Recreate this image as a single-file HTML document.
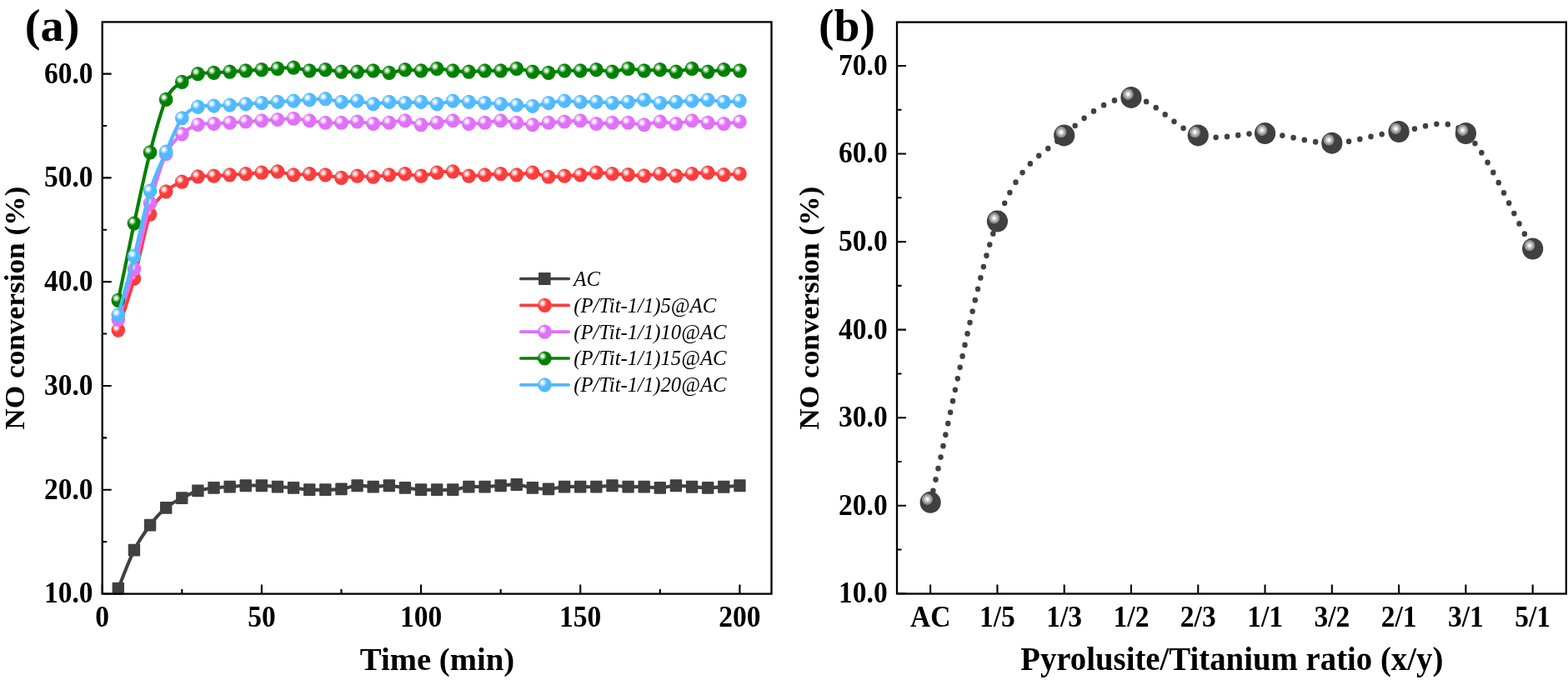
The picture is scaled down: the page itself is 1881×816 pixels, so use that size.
<!DOCTYPE html>
<html><head><meta charset="utf-8"><title>NO conversion</title>
<style>
html,body{margin:0;padding:0;background:#fff;}
svg{display:block;}
text{font-family:"Liberation Serif","Times New Roman",serif;}
.b{font-weight:bold;}
.i{font-style:italic;}
</style></head><body>
<svg width="1881" height="816" viewBox="0 0 1881 816">
<defs>
<radialGradient id="g_red" cx="0.35" cy="0.35" r="0.3" fx="0.35" fy="0.35">
<stop offset="0" stop-color="#fff"/><stop offset="0.25" stop-color="#fff" stop-opacity="0.95"/><stop offset="1" stop-color="#fff" stop-opacity="0"/></radialGradient>
<radialGradient id="g_mag" cx="0.35" cy="0.35" r="0.3" fx="0.35" fy="0.35">
<stop offset="0" stop-color="#fff"/><stop offset="0.25" stop-color="#fff" stop-opacity="0.95"/><stop offset="1" stop-color="#fff" stop-opacity="0"/></radialGradient>
<radialGradient id="g_green" cx="0.35" cy="0.35" r="0.3" fx="0.35" fy="0.35">
<stop offset="0" stop-color="#fff"/><stop offset="0.25" stop-color="#fff" stop-opacity="0.95"/><stop offset="1" stop-color="#fff" stop-opacity="0"/></radialGradient>
<radialGradient id="g_blue" cx="0.35" cy="0.35" r="0.3" fx="0.35" fy="0.35">
<stop offset="0" stop-color="#fff"/><stop offset="0.25" stop-color="#fff" stop-opacity="0.95"/><stop offset="1" stop-color="#fff" stop-opacity="0"/></radialGradient>
<radialGradient id="g_b" cx="0.352" cy="0.355" r="0.27" fx="0.352" fy="0.355">
<stop offset="0" stop-color="#fff"/><stop offset="0.2" stop-color="#fafafa"/><stop offset="0.32" stop-color="#cfcfcf"/><stop offset="0.58" stop-color="#b9b9b9"/><stop offset="0.66" stop-color="#959595"/><stop offset="0.9" stop-color="#8a8a8a"/><stop offset="0.97" stop-color="#4c4c4c"/><stop offset="1" stop-color="#404040" stop-opacity="0"/></radialGradient>
</defs>
<rect width="100%" height="100%" fill="#fff"/>
<path d="M141.82,706.26C148.19,690.87 154.56,672.78 160.94,660.09C167.31,647.41 173.68,638.61 180.05,630.15C186.43,621.68 192.80,614.71 199.17,609.31C205.54,603.90 211.92,601.09 218.29,597.70C224.66,594.31 231.03,591.01 237.40,588.97C243.78,586.93 250.15,586.29 256.52,585.47C262.89,584.66 269.27,584.56 275.64,584.10C282.01,583.64 288.38,582.96 294.76,582.73C301.13,582.50 307.50,582.50 313.88,582.73C320.25,582.96 326.62,583.64 332.99,584.10C339.36,584.56 345.74,584.87 352.11,585.47C358.48,586.08 364.85,587.35 371.23,587.72C377.60,588.09 383.97,587.87 390.34,587.72C396.72,587.57 403.09,587.68 409.46,586.85C415.83,586.01 422.21,583.19 428.58,582.73C434.95,582.27 441.32,584.10 447.70,584.10C454.07,584.10 460.44,582.50 466.81,582.73C473.19,582.96 479.56,584.64 485.93,585.47C492.31,586.31 498.68,587.35 505.05,587.72C511.42,588.09 517.80,587.72 524.17,587.72C530.54,587.72 536.91,588.32 543.28,587.72C549.66,587.12 556.03,584.70 562.40,584.10C568.77,583.50 575.15,584.33 581.52,584.10C587.89,583.87 594.26,583.17 600.64,582.73C607.01,582.29 613.38,581.02 619.75,581.48C626.13,581.94 632.50,584.58 638.87,585.47C645.25,586.37 651.62,587.08 657.99,586.85C664.36,586.62 670.74,584.56 677.11,584.10C683.48,583.64 689.85,584.10 696.23,584.10C702.60,584.10 708.97,584.33 715.34,584.10C721.71,583.87 728.09,582.73 734.46,582.73C740.83,582.73 747.20,583.87 753.58,584.10C759.95,584.33 766.32,583.89 772.69,584.10C779.07,584.31 785.44,585.58 791.81,585.35C798.19,585.12 804.56,582.92 810.93,582.73C817.30,582.54 823.68,583.79 830.05,584.23C836.42,584.66 842.79,585.35 849.17,585.35C855.54,585.35 861.91,584.66 868.28,584.23C874.66,583.79 881.03,583.23 887.40,582.73" fill="none" stroke="#404040" stroke-width="4.1" stroke-linejoin="round"/>
<rect x="134.62" y="698.86" width="14.4" height="14.8" rx="1" fill="#404040"/><rect x="153.74" y="652.69" width="14.4" height="14.8" rx="1" fill="#404040"/><rect x="172.85" y="622.75" width="14.4" height="14.8" rx="1" fill="#404040"/><rect x="191.97" y="601.91" width="14.4" height="14.8" rx="1" fill="#404040"/><rect x="211.09" y="590.30" width="14.4" height="14.8" rx="1" fill="#404040"/><rect x="230.20" y="581.57" width="14.4" height="14.8" rx="1" fill="#404040"/><rect x="249.32" y="578.07" width="14.4" height="14.8" rx="1" fill="#404040"/><rect x="268.44" y="576.70" width="14.4" height="14.8" rx="1" fill="#404040"/><rect x="287.56" y="575.33" width="14.4" height="14.8" rx="1" fill="#404040"/><rect x="306.68" y="575.33" width="14.4" height="14.8" rx="1" fill="#404040"/><rect x="325.79" y="576.70" width="14.4" height="14.8" rx="1" fill="#404040"/><rect x="344.91" y="578.07" width="14.4" height="14.8" rx="1" fill="#404040"/><rect x="364.03" y="580.32" width="14.4" height="14.8" rx="1" fill="#404040"/><rect x="383.14" y="580.32" width="14.4" height="14.8" rx="1" fill="#404040"/><rect x="402.26" y="579.45" width="14.4" height="14.8" rx="1" fill="#404040"/><rect x="421.38" y="575.33" width="14.4" height="14.8" rx="1" fill="#404040"/><rect x="440.50" y="576.70" width="14.4" height="14.8" rx="1" fill="#404040"/><rect x="459.62" y="575.33" width="14.4" height="14.8" rx="1" fill="#404040"/><rect x="478.73" y="578.07" width="14.4" height="14.8" rx="1" fill="#404040"/><rect x="497.85" y="580.32" width="14.4" height="14.8" rx="1" fill="#404040"/><rect x="516.97" y="580.32" width="14.4" height="14.8" rx="1" fill="#404040"/><rect x="536.08" y="580.32" width="14.4" height="14.8" rx="1" fill="#404040"/><rect x="555.20" y="576.70" width="14.4" height="14.8" rx="1" fill="#404040"/><rect x="574.32" y="576.70" width="14.4" height="14.8" rx="1" fill="#404040"/><rect x="593.44" y="575.33" width="14.4" height="14.8" rx="1" fill="#404040"/><rect x="612.55" y="574.08" width="14.4" height="14.8" rx="1" fill="#404040"/><rect x="631.67" y="578.07" width="14.4" height="14.8" rx="1" fill="#404040"/><rect x="650.79" y="579.45" width="14.4" height="14.8" rx="1" fill="#404040"/><rect x="669.91" y="576.70" width="14.4" height="14.8" rx="1" fill="#404040"/><rect x="689.02" y="576.70" width="14.4" height="14.8" rx="1" fill="#404040"/><rect x="708.14" y="576.70" width="14.4" height="14.8" rx="1" fill="#404040"/><rect x="727.26" y="575.33" width="14.4" height="14.8" rx="1" fill="#404040"/><rect x="746.38" y="576.70" width="14.4" height="14.8" rx="1" fill="#404040"/><rect x="765.49" y="576.70" width="14.4" height="14.8" rx="1" fill="#404040"/><rect x="784.61" y="577.95" width="14.4" height="14.8" rx="1" fill="#404040"/><rect x="803.73" y="575.33" width="14.4" height="14.8" rx="1" fill="#404040"/><rect x="822.85" y="576.83" width="14.4" height="14.8" rx="1" fill="#404040"/><rect x="841.97" y="577.95" width="14.4" height="14.8" rx="1" fill="#404040"/><rect x="861.08" y="576.83" width="14.4" height="14.8" rx="1" fill="#404040"/><rect x="880.20" y="575.33" width="14.4" height="14.8" rx="1" fill="#404040"/>
<path d="M141.82,396.06C148.19,375.47 154.56,357.46 160.94,334.29C167.31,311.12 173.68,274.46 180.05,257.05C186.43,239.65 192.80,236.34 199.17,229.85C205.54,223.36 211.92,221.12 218.29,218.12C224.66,215.13 231.03,213.05 237.40,211.88C243.78,210.72 250.15,211.47 256.52,211.13C262.89,210.80 269.27,210.30 275.64,209.89C282.01,209.47 288.38,209.10 294.76,208.64C301.13,208.18 307.50,207.60 313.88,207.14C320.25,206.68 326.62,205.44 332.99,205.89C339.36,206.35 345.74,209.43 352.11,209.89C358.48,210.34 364.85,208.64 371.23,208.64C377.60,208.64 383.97,209.10 390.34,209.89C396.72,210.68 403.09,213.17 409.46,213.38C415.83,213.59 422.21,211.32 428.58,211.13C434.95,210.95 441.32,212.46 447.70,212.26C454.07,212.05 460.44,210.49 466.81,209.89C473.19,209.28 479.56,208.43 485.93,208.64C492.31,208.85 498.68,211.38 505.05,211.13C511.42,210.88 517.80,208.01 524.17,207.14C530.54,206.27 536.91,205.23 543.28,205.89C549.66,206.56 556.03,210.47 562.40,211.13C568.77,211.80 575.15,210.30 581.52,209.89C587.89,209.47 594.26,208.64 600.64,208.64C607.01,208.64 613.38,210.14 619.75,209.89C626.13,209.64 632.50,206.75 638.87,207.14C645.25,207.54 651.62,211.59 657.99,212.26C664.36,212.92 670.74,211.53 677.11,211.13C683.48,210.74 689.85,210.55 696.23,209.89C702.60,209.22 708.97,207.37 715.34,207.14C721.71,206.91 728.09,208.10 734.46,208.51C740.83,208.93 747.20,209.24 753.58,209.64C759.95,210.03 766.32,211.07 772.69,210.88C779.07,210.70 785.44,208.51 791.81,208.51C798.19,208.51 804.56,210.88 810.93,210.88C817.30,210.88 823.68,209.14 830.05,208.51C836.42,207.89 842.79,206.95 849.17,207.14C855.54,207.33 861.91,209.41 868.28,209.64C874.66,209.87 881.03,208.89 887.40,208.51" fill="none" stroke="#FA3C3C" stroke-width="4.1" stroke-linejoin="round"/>
<ellipse cx="141.82" cy="396.06" rx="8.3" ry="8.6" fill="#FA3C3C"/><ellipse cx="141.82" cy="396.06" rx="8.3" ry="8.6" fill="url(#g_red)"/><ellipse cx="160.94" cy="334.29" rx="8.3" ry="8.6" fill="#FA3C3C"/><ellipse cx="160.94" cy="334.29" rx="8.3" ry="8.6" fill="url(#g_red)"/><ellipse cx="180.05" cy="257.05" rx="8.3" ry="8.6" fill="#FA3C3C"/><ellipse cx="180.05" cy="257.05" rx="8.3" ry="8.6" fill="url(#g_red)"/><ellipse cx="199.17" cy="229.85" rx="8.3" ry="8.6" fill="#FA3C3C"/><ellipse cx="199.17" cy="229.85" rx="8.3" ry="8.6" fill="url(#g_red)"/><ellipse cx="218.29" cy="218.12" rx="8.3" ry="8.6" fill="#FA3C3C"/><ellipse cx="218.29" cy="218.12" rx="8.3" ry="8.6" fill="url(#g_red)"/><ellipse cx="237.40" cy="211.88" rx="8.3" ry="8.6" fill="#FA3C3C"/><ellipse cx="237.40" cy="211.88" rx="8.3" ry="8.6" fill="url(#g_red)"/><ellipse cx="256.52" cy="211.13" rx="8.3" ry="8.6" fill="#FA3C3C"/><ellipse cx="256.52" cy="211.13" rx="8.3" ry="8.6" fill="url(#g_red)"/><ellipse cx="275.64" cy="209.89" rx="8.3" ry="8.6" fill="#FA3C3C"/><ellipse cx="275.64" cy="209.89" rx="8.3" ry="8.6" fill="url(#g_red)"/><ellipse cx="294.76" cy="208.64" rx="8.3" ry="8.6" fill="#FA3C3C"/><ellipse cx="294.76" cy="208.64" rx="8.3" ry="8.6" fill="url(#g_red)"/><ellipse cx="313.88" cy="207.14" rx="8.3" ry="8.6" fill="#FA3C3C"/><ellipse cx="313.88" cy="207.14" rx="8.3" ry="8.6" fill="url(#g_red)"/><ellipse cx="332.99" cy="205.89" rx="8.3" ry="8.6" fill="#FA3C3C"/><ellipse cx="332.99" cy="205.89" rx="8.3" ry="8.6" fill="url(#g_red)"/><ellipse cx="352.11" cy="209.89" rx="8.3" ry="8.6" fill="#FA3C3C"/><ellipse cx="352.11" cy="209.89" rx="8.3" ry="8.6" fill="url(#g_red)"/><ellipse cx="371.23" cy="208.64" rx="8.3" ry="8.6" fill="#FA3C3C"/><ellipse cx="371.23" cy="208.64" rx="8.3" ry="8.6" fill="url(#g_red)"/><ellipse cx="390.34" cy="209.89" rx="8.3" ry="8.6" fill="#FA3C3C"/><ellipse cx="390.34" cy="209.89" rx="8.3" ry="8.6" fill="url(#g_red)"/><ellipse cx="409.46" cy="213.38" rx="8.3" ry="8.6" fill="#FA3C3C"/><ellipse cx="409.46" cy="213.38" rx="8.3" ry="8.6" fill="url(#g_red)"/><ellipse cx="428.58" cy="211.13" rx="8.3" ry="8.6" fill="#FA3C3C"/><ellipse cx="428.58" cy="211.13" rx="8.3" ry="8.6" fill="url(#g_red)"/><ellipse cx="447.70" cy="212.26" rx="8.3" ry="8.6" fill="#FA3C3C"/><ellipse cx="447.70" cy="212.26" rx="8.3" ry="8.6" fill="url(#g_red)"/><ellipse cx="466.81" cy="209.89" rx="8.3" ry="8.6" fill="#FA3C3C"/><ellipse cx="466.81" cy="209.89" rx="8.3" ry="8.6" fill="url(#g_red)"/><ellipse cx="485.93" cy="208.64" rx="8.3" ry="8.6" fill="#FA3C3C"/><ellipse cx="485.93" cy="208.64" rx="8.3" ry="8.6" fill="url(#g_red)"/><ellipse cx="505.05" cy="211.13" rx="8.3" ry="8.6" fill="#FA3C3C"/><ellipse cx="505.05" cy="211.13" rx="8.3" ry="8.6" fill="url(#g_red)"/><ellipse cx="524.17" cy="207.14" rx="8.3" ry="8.6" fill="#FA3C3C"/><ellipse cx="524.17" cy="207.14" rx="8.3" ry="8.6" fill="url(#g_red)"/><ellipse cx="543.28" cy="205.89" rx="8.3" ry="8.6" fill="#FA3C3C"/><ellipse cx="543.28" cy="205.89" rx="8.3" ry="8.6" fill="url(#g_red)"/><ellipse cx="562.40" cy="211.13" rx="8.3" ry="8.6" fill="#FA3C3C"/><ellipse cx="562.40" cy="211.13" rx="8.3" ry="8.6" fill="url(#g_red)"/><ellipse cx="581.52" cy="209.89" rx="8.3" ry="8.6" fill="#FA3C3C"/><ellipse cx="581.52" cy="209.89" rx="8.3" ry="8.6" fill="url(#g_red)"/><ellipse cx="600.64" cy="208.64" rx="8.3" ry="8.6" fill="#FA3C3C"/><ellipse cx="600.64" cy="208.64" rx="8.3" ry="8.6" fill="url(#g_red)"/><ellipse cx="619.75" cy="209.89" rx="8.3" ry="8.6" fill="#FA3C3C"/><ellipse cx="619.75" cy="209.89" rx="8.3" ry="8.6" fill="url(#g_red)"/><ellipse cx="638.87" cy="207.14" rx="8.3" ry="8.6" fill="#FA3C3C"/><ellipse cx="638.87" cy="207.14" rx="8.3" ry="8.6" fill="url(#g_red)"/><ellipse cx="657.99" cy="212.26" rx="8.3" ry="8.6" fill="#FA3C3C"/><ellipse cx="657.99" cy="212.26" rx="8.3" ry="8.6" fill="url(#g_red)"/><ellipse cx="677.11" cy="211.13" rx="8.3" ry="8.6" fill="#FA3C3C"/><ellipse cx="677.11" cy="211.13" rx="8.3" ry="8.6" fill="url(#g_red)"/><ellipse cx="696.23" cy="209.89" rx="8.3" ry="8.6" fill="#FA3C3C"/><ellipse cx="696.23" cy="209.89" rx="8.3" ry="8.6" fill="url(#g_red)"/><ellipse cx="715.34" cy="207.14" rx="8.3" ry="8.6" fill="#FA3C3C"/><ellipse cx="715.34" cy="207.14" rx="8.3" ry="8.6" fill="url(#g_red)"/><ellipse cx="734.46" cy="208.51" rx="8.3" ry="8.6" fill="#FA3C3C"/><ellipse cx="734.46" cy="208.51" rx="8.3" ry="8.6" fill="url(#g_red)"/><ellipse cx="753.58" cy="209.64" rx="8.3" ry="8.6" fill="#FA3C3C"/><ellipse cx="753.58" cy="209.64" rx="8.3" ry="8.6" fill="url(#g_red)"/><ellipse cx="772.69" cy="210.88" rx="8.3" ry="8.6" fill="#FA3C3C"/><ellipse cx="772.69" cy="210.88" rx="8.3" ry="8.6" fill="url(#g_red)"/><ellipse cx="791.81" cy="208.51" rx="8.3" ry="8.6" fill="#FA3C3C"/><ellipse cx="791.81" cy="208.51" rx="8.3" ry="8.6" fill="url(#g_red)"/><ellipse cx="810.93" cy="210.88" rx="8.3" ry="8.6" fill="#FA3C3C"/><ellipse cx="810.93" cy="210.88" rx="8.3" ry="8.6" fill="url(#g_red)"/><ellipse cx="830.05" cy="208.51" rx="8.3" ry="8.6" fill="#FA3C3C"/><ellipse cx="830.05" cy="208.51" rx="8.3" ry="8.6" fill="url(#g_red)"/><ellipse cx="849.17" cy="207.14" rx="8.3" ry="8.6" fill="#FA3C3C"/><ellipse cx="849.17" cy="207.14" rx="8.3" ry="8.6" fill="url(#g_red)"/><ellipse cx="868.28" cy="209.64" rx="8.3" ry="8.6" fill="#FA3C3C"/><ellipse cx="868.28" cy="209.64" rx="8.3" ry="8.6" fill="url(#g_red)"/><ellipse cx="887.40" cy="208.51" rx="8.3" ry="8.6" fill="#FA3C3C"/><ellipse cx="887.40" cy="208.51" rx="8.3" ry="8.6" fill="url(#g_red)"/>
<path d="M141.82,383.33C148.19,363.16 154.56,346.06 160.94,322.81C167.31,299.56 173.68,266.85 180.05,243.83C186.43,220.80 192.80,198.51 199.17,184.68C205.54,170.85 211.92,166.71 218.29,160.85C224.66,154.98 231.03,151.55 237.40,149.49C243.78,147.43 250.15,148.87 256.52,148.49C262.89,148.12 269.27,147.66 275.64,147.25C282.01,146.83 288.38,146.41 294.76,146.00C301.13,145.58 307.50,145.17 313.88,144.75C320.25,144.34 326.62,143.92 332.99,143.50C339.36,143.09 345.74,142.05 352.11,142.26C358.48,142.46 364.85,143.92 371.23,144.75C377.60,145.58 383.97,146.83 390.34,147.25C396.72,147.66 403.09,147.45 409.46,147.25C415.83,147.04 422.21,145.79 428.58,146.00C434.95,146.21 441.32,148.29 447.70,148.49C454.07,148.70 460.44,147.87 466.81,147.25C473.19,146.62 479.56,144.34 485.93,144.75C492.31,145.17 498.68,149.33 505.05,149.74C511.42,150.16 517.80,148.08 524.17,147.25C530.54,146.41 536.91,144.54 543.28,144.75C549.66,144.96 556.03,148.08 562.40,148.49C568.77,148.91 575.15,147.87 581.52,147.25C587.89,146.62 594.26,144.75 600.64,144.75C607.01,144.75 613.38,146.41 619.75,147.25C626.13,148.08 632.50,149.74 638.87,149.74C645.25,149.74 651.62,147.87 657.99,147.25C664.36,146.62 670.74,146.41 677.11,146.00C683.48,145.58 689.85,144.34 696.23,144.75C702.60,145.17 708.97,148.08 715.34,148.49C721.71,148.91 728.09,147.45 734.46,147.25C740.83,147.04 747.20,146.83 753.58,147.25C759.95,147.66 766.32,149.95 772.69,149.74C779.07,149.53 785.44,146.21 791.81,146.00C798.19,145.79 804.56,148.70 810.93,148.49C817.30,148.29 823.68,144.96 830.05,144.75C836.42,144.54 842.79,146.62 849.17,147.25C855.54,147.87 861.91,148.70 868.28,148.49C874.66,148.29 881.03,146.83 887.40,146.00" fill="none" stroke="#E070F8" stroke-width="4.1" stroke-linejoin="round"/>
<ellipse cx="141.82" cy="383.33" rx="8.3" ry="8.6" fill="#E070F8"/><ellipse cx="141.82" cy="383.33" rx="8.3" ry="8.6" fill="url(#g_mag)"/><ellipse cx="160.94" cy="322.81" rx="8.3" ry="8.6" fill="#E070F8"/><ellipse cx="160.94" cy="322.81" rx="8.3" ry="8.6" fill="url(#g_mag)"/><ellipse cx="180.05" cy="243.83" rx="8.3" ry="8.6" fill="#E070F8"/><ellipse cx="180.05" cy="243.83" rx="8.3" ry="8.6" fill="url(#g_mag)"/><ellipse cx="199.17" cy="184.68" rx="8.3" ry="8.6" fill="#E070F8"/><ellipse cx="199.17" cy="184.68" rx="8.3" ry="8.6" fill="url(#g_mag)"/><ellipse cx="218.29" cy="160.85" rx="8.3" ry="8.6" fill="#E070F8"/><ellipse cx="218.29" cy="160.85" rx="8.3" ry="8.6" fill="url(#g_mag)"/><ellipse cx="237.40" cy="149.49" rx="8.3" ry="8.6" fill="#E070F8"/><ellipse cx="237.40" cy="149.49" rx="8.3" ry="8.6" fill="url(#g_mag)"/><ellipse cx="256.52" cy="148.49" rx="8.3" ry="8.6" fill="#E070F8"/><ellipse cx="256.52" cy="148.49" rx="8.3" ry="8.6" fill="url(#g_mag)"/><ellipse cx="275.64" cy="147.25" rx="8.3" ry="8.6" fill="#E070F8"/><ellipse cx="275.64" cy="147.25" rx="8.3" ry="8.6" fill="url(#g_mag)"/><ellipse cx="294.76" cy="146.00" rx="8.3" ry="8.6" fill="#E070F8"/><ellipse cx="294.76" cy="146.00" rx="8.3" ry="8.6" fill="url(#g_mag)"/><ellipse cx="313.88" cy="144.75" rx="8.3" ry="8.6" fill="#E070F8"/><ellipse cx="313.88" cy="144.75" rx="8.3" ry="8.6" fill="url(#g_mag)"/><ellipse cx="332.99" cy="143.50" rx="8.3" ry="8.6" fill="#E070F8"/><ellipse cx="332.99" cy="143.50" rx="8.3" ry="8.6" fill="url(#g_mag)"/><ellipse cx="352.11" cy="142.26" rx="8.3" ry="8.6" fill="#E070F8"/><ellipse cx="352.11" cy="142.26" rx="8.3" ry="8.6" fill="url(#g_mag)"/><ellipse cx="371.23" cy="144.75" rx="8.3" ry="8.6" fill="#E070F8"/><ellipse cx="371.23" cy="144.75" rx="8.3" ry="8.6" fill="url(#g_mag)"/><ellipse cx="390.34" cy="147.25" rx="8.3" ry="8.6" fill="#E070F8"/><ellipse cx="390.34" cy="147.25" rx="8.3" ry="8.6" fill="url(#g_mag)"/><ellipse cx="409.46" cy="147.25" rx="8.3" ry="8.6" fill="#E070F8"/><ellipse cx="409.46" cy="147.25" rx="8.3" ry="8.6" fill="url(#g_mag)"/><ellipse cx="428.58" cy="146.00" rx="8.3" ry="8.6" fill="#E070F8"/><ellipse cx="428.58" cy="146.00" rx="8.3" ry="8.6" fill="url(#g_mag)"/><ellipse cx="447.70" cy="148.49" rx="8.3" ry="8.6" fill="#E070F8"/><ellipse cx="447.70" cy="148.49" rx="8.3" ry="8.6" fill="url(#g_mag)"/><ellipse cx="466.81" cy="147.25" rx="8.3" ry="8.6" fill="#E070F8"/><ellipse cx="466.81" cy="147.25" rx="8.3" ry="8.6" fill="url(#g_mag)"/><ellipse cx="485.93" cy="144.75" rx="8.3" ry="8.6" fill="#E070F8"/><ellipse cx="485.93" cy="144.75" rx="8.3" ry="8.6" fill="url(#g_mag)"/><ellipse cx="505.05" cy="149.74" rx="8.3" ry="8.6" fill="#E070F8"/><ellipse cx="505.05" cy="149.74" rx="8.3" ry="8.6" fill="url(#g_mag)"/><ellipse cx="524.17" cy="147.25" rx="8.3" ry="8.6" fill="#E070F8"/><ellipse cx="524.17" cy="147.25" rx="8.3" ry="8.6" fill="url(#g_mag)"/><ellipse cx="543.28" cy="144.75" rx="8.3" ry="8.6" fill="#E070F8"/><ellipse cx="543.28" cy="144.75" rx="8.3" ry="8.6" fill="url(#g_mag)"/><ellipse cx="562.40" cy="148.49" rx="8.3" ry="8.6" fill="#E070F8"/><ellipse cx="562.40" cy="148.49" rx="8.3" ry="8.6" fill="url(#g_mag)"/><ellipse cx="581.52" cy="147.25" rx="8.3" ry="8.6" fill="#E070F8"/><ellipse cx="581.52" cy="147.25" rx="8.3" ry="8.6" fill="url(#g_mag)"/><ellipse cx="600.64" cy="144.75" rx="8.3" ry="8.6" fill="#E070F8"/><ellipse cx="600.64" cy="144.75" rx="8.3" ry="8.6" fill="url(#g_mag)"/><ellipse cx="619.75" cy="147.25" rx="8.3" ry="8.6" fill="#E070F8"/><ellipse cx="619.75" cy="147.25" rx="8.3" ry="8.6" fill="url(#g_mag)"/><ellipse cx="638.87" cy="149.74" rx="8.3" ry="8.6" fill="#E070F8"/><ellipse cx="638.87" cy="149.74" rx="8.3" ry="8.6" fill="url(#g_mag)"/><ellipse cx="657.99" cy="147.25" rx="8.3" ry="8.6" fill="#E070F8"/><ellipse cx="657.99" cy="147.25" rx="8.3" ry="8.6" fill="url(#g_mag)"/><ellipse cx="677.11" cy="146.00" rx="8.3" ry="8.6" fill="#E070F8"/><ellipse cx="677.11" cy="146.00" rx="8.3" ry="8.6" fill="url(#g_mag)"/><ellipse cx="696.23" cy="144.75" rx="8.3" ry="8.6" fill="#E070F8"/><ellipse cx="696.23" cy="144.75" rx="8.3" ry="8.6" fill="url(#g_mag)"/><ellipse cx="715.34" cy="148.49" rx="8.3" ry="8.6" fill="#E070F8"/><ellipse cx="715.34" cy="148.49" rx="8.3" ry="8.6" fill="url(#g_mag)"/><ellipse cx="734.46" cy="147.25" rx="8.3" ry="8.6" fill="#E070F8"/><ellipse cx="734.46" cy="147.25" rx="8.3" ry="8.6" fill="url(#g_mag)"/><ellipse cx="753.58" cy="147.25" rx="8.3" ry="8.6" fill="#E070F8"/><ellipse cx="753.58" cy="147.25" rx="8.3" ry="8.6" fill="url(#g_mag)"/><ellipse cx="772.69" cy="149.74" rx="8.3" ry="8.6" fill="#E070F8"/><ellipse cx="772.69" cy="149.74" rx="8.3" ry="8.6" fill="url(#g_mag)"/><ellipse cx="791.81" cy="146.00" rx="8.3" ry="8.6" fill="#E070F8"/><ellipse cx="791.81" cy="146.00" rx="8.3" ry="8.6" fill="url(#g_mag)"/><ellipse cx="810.93" cy="148.49" rx="8.3" ry="8.6" fill="#E070F8"/><ellipse cx="810.93" cy="148.49" rx="8.3" ry="8.6" fill="url(#g_mag)"/><ellipse cx="830.05" cy="144.75" rx="8.3" ry="8.6" fill="#E070F8"/><ellipse cx="830.05" cy="144.75" rx="8.3" ry="8.6" fill="url(#g_mag)"/><ellipse cx="849.17" cy="147.25" rx="8.3" ry="8.6" fill="#E070F8"/><ellipse cx="849.17" cy="147.25" rx="8.3" ry="8.6" fill="url(#g_mag)"/><ellipse cx="868.28" cy="148.49" rx="8.3" ry="8.6" fill="#E070F8"/><ellipse cx="868.28" cy="148.49" rx="8.3" ry="8.6" fill="url(#g_mag)"/><ellipse cx="887.40" cy="146.00" rx="8.3" ry="8.6" fill="#E070F8"/><ellipse cx="887.40" cy="146.00" rx="8.3" ry="8.6" fill="url(#g_mag)"/>
<path d="M141.82,360.37C148.19,329.59 154.56,297.63 160.94,268.03C167.31,238.44 173.68,207.58 180.05,182.81C186.43,158.04 192.80,133.50 199.17,119.42C205.54,105.34 211.92,103.47 218.29,98.33C224.66,93.20 231.03,90.43 237.40,88.60C243.78,86.77 250.15,87.77 256.52,87.35C262.89,86.94 269.27,86.52 275.64,86.10C282.01,85.69 288.38,85.27 294.76,84.86C301.13,84.44 307.50,84.02 313.88,83.61C320.25,83.19 326.62,82.78 332.99,82.36C339.36,81.95 345.74,80.70 352.11,81.11C358.48,81.53 364.85,84.44 371.23,84.86C377.60,85.27 383.97,83.40 390.34,83.61C396.72,83.82 403.09,85.69 409.46,86.10C415.83,86.52 422.21,86.31 428.58,86.10C434.95,85.90 441.32,84.65 447.70,84.86C454.07,85.06 460.44,87.56 466.81,87.35C473.19,87.14 479.56,84.02 485.93,83.61C492.31,83.19 498.68,85.06 505.05,84.86C511.42,84.65 517.80,82.36 524.17,82.36C530.54,82.36 536.91,84.23 543.28,84.86C549.66,85.48 556.03,86.10 562.40,86.10C568.77,86.10 575.15,85.06 581.52,84.86C587.89,84.65 594.26,85.27 600.64,84.86C607.01,84.44 613.38,82.15 619.75,82.36C626.13,82.57 632.50,85.27 638.87,86.10C645.25,86.94 651.62,87.56 657.99,87.35C664.36,87.14 670.74,85.27 677.11,84.86C683.48,84.44 689.85,85.06 696.23,84.86C702.60,84.65 708.97,83.40 715.34,83.61C721.71,83.82 728.09,86.31 734.46,86.10C740.83,85.90 747.20,82.57 753.58,82.36C759.95,82.15 766.32,84.65 772.69,84.86C779.07,85.06 785.44,83.40 791.81,83.61C798.19,83.82 804.56,86.31 810.93,86.10C817.30,85.90 823.68,82.36 830.05,82.36C836.42,82.36 842.79,85.90 849.17,86.10C855.54,86.31 861.91,83.82 868.28,83.61C874.66,83.40 881.03,84.44 887.40,84.86" fill="none" stroke="#008000" stroke-width="4.1" stroke-linejoin="round"/>
<ellipse cx="141.82" cy="360.37" rx="8.3" ry="8.6" fill="#008000"/><ellipse cx="141.82" cy="360.37" rx="8.3" ry="8.6" fill="url(#g_green)"/><ellipse cx="160.94" cy="268.03" rx="8.3" ry="8.6" fill="#008000"/><ellipse cx="160.94" cy="268.03" rx="8.3" ry="8.6" fill="url(#g_green)"/><ellipse cx="180.05" cy="182.81" rx="8.3" ry="8.6" fill="#008000"/><ellipse cx="180.05" cy="182.81" rx="8.3" ry="8.6" fill="url(#g_green)"/><ellipse cx="199.17" cy="119.42" rx="8.3" ry="8.6" fill="#008000"/><ellipse cx="199.17" cy="119.42" rx="8.3" ry="8.6" fill="url(#g_green)"/><ellipse cx="218.29" cy="98.33" rx="8.3" ry="8.6" fill="#008000"/><ellipse cx="218.29" cy="98.33" rx="8.3" ry="8.6" fill="url(#g_green)"/><ellipse cx="237.40" cy="88.60" rx="8.3" ry="8.6" fill="#008000"/><ellipse cx="237.40" cy="88.60" rx="8.3" ry="8.6" fill="url(#g_green)"/><ellipse cx="256.52" cy="87.35" rx="8.3" ry="8.6" fill="#008000"/><ellipse cx="256.52" cy="87.35" rx="8.3" ry="8.6" fill="url(#g_green)"/><ellipse cx="275.64" cy="86.10" rx="8.3" ry="8.6" fill="#008000"/><ellipse cx="275.64" cy="86.10" rx="8.3" ry="8.6" fill="url(#g_green)"/><ellipse cx="294.76" cy="84.86" rx="8.3" ry="8.6" fill="#008000"/><ellipse cx="294.76" cy="84.86" rx="8.3" ry="8.6" fill="url(#g_green)"/><ellipse cx="313.88" cy="83.61" rx="8.3" ry="8.6" fill="#008000"/><ellipse cx="313.88" cy="83.61" rx="8.3" ry="8.6" fill="url(#g_green)"/><ellipse cx="332.99" cy="82.36" rx="8.3" ry="8.6" fill="#008000"/><ellipse cx="332.99" cy="82.36" rx="8.3" ry="8.6" fill="url(#g_green)"/><ellipse cx="352.11" cy="81.11" rx="8.3" ry="8.6" fill="#008000"/><ellipse cx="352.11" cy="81.11" rx="8.3" ry="8.6" fill="url(#g_green)"/><ellipse cx="371.23" cy="84.86" rx="8.3" ry="8.6" fill="#008000"/><ellipse cx="371.23" cy="84.86" rx="8.3" ry="8.6" fill="url(#g_green)"/><ellipse cx="390.34" cy="83.61" rx="8.3" ry="8.6" fill="#008000"/><ellipse cx="390.34" cy="83.61" rx="8.3" ry="8.6" fill="url(#g_green)"/><ellipse cx="409.46" cy="86.10" rx="8.3" ry="8.6" fill="#008000"/><ellipse cx="409.46" cy="86.10" rx="8.3" ry="8.6" fill="url(#g_green)"/><ellipse cx="428.58" cy="86.10" rx="8.3" ry="8.6" fill="#008000"/><ellipse cx="428.58" cy="86.10" rx="8.3" ry="8.6" fill="url(#g_green)"/><ellipse cx="447.70" cy="84.86" rx="8.3" ry="8.6" fill="#008000"/><ellipse cx="447.70" cy="84.86" rx="8.3" ry="8.6" fill="url(#g_green)"/><ellipse cx="466.81" cy="87.35" rx="8.3" ry="8.6" fill="#008000"/><ellipse cx="466.81" cy="87.35" rx="8.3" ry="8.6" fill="url(#g_green)"/><ellipse cx="485.93" cy="83.61" rx="8.3" ry="8.6" fill="#008000"/><ellipse cx="485.93" cy="83.61" rx="8.3" ry="8.6" fill="url(#g_green)"/><ellipse cx="505.05" cy="84.86" rx="8.3" ry="8.6" fill="#008000"/><ellipse cx="505.05" cy="84.86" rx="8.3" ry="8.6" fill="url(#g_green)"/><ellipse cx="524.17" cy="82.36" rx="8.3" ry="8.6" fill="#008000"/><ellipse cx="524.17" cy="82.36" rx="8.3" ry="8.6" fill="url(#g_green)"/><ellipse cx="543.28" cy="84.86" rx="8.3" ry="8.6" fill="#008000"/><ellipse cx="543.28" cy="84.86" rx="8.3" ry="8.6" fill="url(#g_green)"/><ellipse cx="562.40" cy="86.10" rx="8.3" ry="8.6" fill="#008000"/><ellipse cx="562.40" cy="86.10" rx="8.3" ry="8.6" fill="url(#g_green)"/><ellipse cx="581.52" cy="84.86" rx="8.3" ry="8.6" fill="#008000"/><ellipse cx="581.52" cy="84.86" rx="8.3" ry="8.6" fill="url(#g_green)"/><ellipse cx="600.64" cy="84.86" rx="8.3" ry="8.6" fill="#008000"/><ellipse cx="600.64" cy="84.86" rx="8.3" ry="8.6" fill="url(#g_green)"/><ellipse cx="619.75" cy="82.36" rx="8.3" ry="8.6" fill="#008000"/><ellipse cx="619.75" cy="82.36" rx="8.3" ry="8.6" fill="url(#g_green)"/><ellipse cx="638.87" cy="86.10" rx="8.3" ry="8.6" fill="#008000"/><ellipse cx="638.87" cy="86.10" rx="8.3" ry="8.6" fill="url(#g_green)"/><ellipse cx="657.99" cy="87.35" rx="8.3" ry="8.6" fill="#008000"/><ellipse cx="657.99" cy="87.35" rx="8.3" ry="8.6" fill="url(#g_green)"/><ellipse cx="677.11" cy="84.86" rx="8.3" ry="8.6" fill="#008000"/><ellipse cx="677.11" cy="84.86" rx="8.3" ry="8.6" fill="url(#g_green)"/><ellipse cx="696.23" cy="84.86" rx="8.3" ry="8.6" fill="#008000"/><ellipse cx="696.23" cy="84.86" rx="8.3" ry="8.6" fill="url(#g_green)"/><ellipse cx="715.34" cy="83.61" rx="8.3" ry="8.6" fill="#008000"/><ellipse cx="715.34" cy="83.61" rx="8.3" ry="8.6" fill="url(#g_green)"/><ellipse cx="734.46" cy="86.10" rx="8.3" ry="8.6" fill="#008000"/><ellipse cx="734.46" cy="86.10" rx="8.3" ry="8.6" fill="url(#g_green)"/><ellipse cx="753.58" cy="82.36" rx="8.3" ry="8.6" fill="#008000"/><ellipse cx="753.58" cy="82.36" rx="8.3" ry="8.6" fill="url(#g_green)"/><ellipse cx="772.69" cy="84.86" rx="8.3" ry="8.6" fill="#008000"/><ellipse cx="772.69" cy="84.86" rx="8.3" ry="8.6" fill="url(#g_green)"/><ellipse cx="791.81" cy="83.61" rx="8.3" ry="8.6" fill="#008000"/><ellipse cx="791.81" cy="83.61" rx="8.3" ry="8.6" fill="url(#g_green)"/><ellipse cx="810.93" cy="86.10" rx="8.3" ry="8.6" fill="#008000"/><ellipse cx="810.93" cy="86.10" rx="8.3" ry="8.6" fill="url(#g_green)"/><ellipse cx="830.05" cy="82.36" rx="8.3" ry="8.6" fill="#008000"/><ellipse cx="830.05" cy="82.36" rx="8.3" ry="8.6" fill="url(#g_green)"/><ellipse cx="849.17" cy="86.10" rx="8.3" ry="8.6" fill="#008000"/><ellipse cx="849.17" cy="86.10" rx="8.3" ry="8.6" fill="url(#g_green)"/><ellipse cx="868.28" cy="83.61" rx="8.3" ry="8.6" fill="#008000"/><ellipse cx="868.28" cy="83.61" rx="8.3" ry="8.6" fill="url(#g_green)"/><ellipse cx="887.40" cy="84.86" rx="8.3" ry="8.6" fill="#008000"/><ellipse cx="887.40" cy="84.86" rx="8.3" ry="8.6" fill="url(#g_green)"/>
<path d="M141.82,377.84C148.19,354.38 154.56,332.25 160.94,307.46C167.31,282.67 173.68,249.98 180.05,229.10C186.43,208.22 192.80,196.74 199.17,182.19C205.54,167.63 211.92,150.74 218.29,141.76C224.66,132.77 231.03,130.73 237.40,128.28C243.78,125.83 250.15,127.41 256.52,127.03C262.89,126.66 269.27,126.41 275.64,126.03C282.01,125.66 288.38,125.20 294.76,124.79C301.13,124.37 307.50,123.95 313.88,123.54C320.25,123.12 326.62,122.71 332.99,122.29C339.36,121.87 345.74,121.46 352.11,121.04C358.48,120.63 364.85,120.21 371.23,119.79C377.60,119.38 383.97,118.13 390.34,118.55C396.72,118.96 403.09,121.87 409.46,122.29C415.83,122.71 422.21,120.63 428.58,121.04C434.95,121.46 441.32,124.58 447.70,124.79C454.07,124.99 460.44,122.50 466.81,122.29C473.19,122.08 479.56,123.54 485.93,123.54C492.31,123.54 498.68,122.08 505.05,122.29C511.42,122.50 517.80,124.99 524.17,124.79C530.54,124.58 536.91,121.46 543.28,121.04C549.66,120.63 556.03,121.87 562.40,122.29C568.77,122.71 575.15,123.12 581.52,123.54C587.89,123.95 594.26,124.37 600.64,124.79C607.01,125.20 613.38,125.62 619.75,126.03C626.13,126.45 632.50,127.70 638.87,127.28C645.25,126.87 651.62,124.58 657.99,123.54C664.36,122.50 670.74,121.25 677.11,121.04C683.48,120.83 689.85,122.08 696.23,122.29C702.60,122.50 708.97,122.08 715.34,122.29C721.71,122.50 728.09,123.54 734.46,123.54C740.83,123.54 747.20,122.91 753.58,122.29C759.95,121.67 766.32,119.59 772.69,119.79C779.07,120.00 785.44,123.12 791.81,123.54C798.19,123.95 804.56,122.71 810.93,122.29C817.30,121.87 823.68,121.46 830.05,121.04C836.42,120.63 842.79,119.59 849.17,119.79C855.54,120.00 861.91,122.08 868.28,122.29C874.66,122.50 881.03,121.46 887.40,121.04" fill="none" stroke="#50BAFF" stroke-width="4.1" stroke-linejoin="round"/>
<ellipse cx="141.82" cy="377.84" rx="8.3" ry="8.6" fill="#50BAFF"/><ellipse cx="141.82" cy="377.84" rx="8.3" ry="8.6" fill="url(#g_blue)"/><ellipse cx="160.94" cy="307.46" rx="8.3" ry="8.6" fill="#50BAFF"/><ellipse cx="160.94" cy="307.46" rx="8.3" ry="8.6" fill="url(#g_blue)"/><ellipse cx="180.05" cy="229.10" rx="8.3" ry="8.6" fill="#50BAFF"/><ellipse cx="180.05" cy="229.10" rx="8.3" ry="8.6" fill="url(#g_blue)"/><ellipse cx="199.17" cy="182.19" rx="8.3" ry="8.6" fill="#50BAFF"/><ellipse cx="199.17" cy="182.19" rx="8.3" ry="8.6" fill="url(#g_blue)"/><ellipse cx="218.29" cy="141.76" rx="8.3" ry="8.6" fill="#50BAFF"/><ellipse cx="218.29" cy="141.76" rx="8.3" ry="8.6" fill="url(#g_blue)"/><ellipse cx="237.40" cy="128.28" rx="8.3" ry="8.6" fill="#50BAFF"/><ellipse cx="237.40" cy="128.28" rx="8.3" ry="8.6" fill="url(#g_blue)"/><ellipse cx="256.52" cy="127.03" rx="8.3" ry="8.6" fill="#50BAFF"/><ellipse cx="256.52" cy="127.03" rx="8.3" ry="8.6" fill="url(#g_blue)"/><ellipse cx="275.64" cy="126.03" rx="8.3" ry="8.6" fill="#50BAFF"/><ellipse cx="275.64" cy="126.03" rx="8.3" ry="8.6" fill="url(#g_blue)"/><ellipse cx="294.76" cy="124.79" rx="8.3" ry="8.6" fill="#50BAFF"/><ellipse cx="294.76" cy="124.79" rx="8.3" ry="8.6" fill="url(#g_blue)"/><ellipse cx="313.88" cy="123.54" rx="8.3" ry="8.6" fill="#50BAFF"/><ellipse cx="313.88" cy="123.54" rx="8.3" ry="8.6" fill="url(#g_blue)"/><ellipse cx="332.99" cy="122.29" rx="8.3" ry="8.6" fill="#50BAFF"/><ellipse cx="332.99" cy="122.29" rx="8.3" ry="8.6" fill="url(#g_blue)"/><ellipse cx="352.11" cy="121.04" rx="8.3" ry="8.6" fill="#50BAFF"/><ellipse cx="352.11" cy="121.04" rx="8.3" ry="8.6" fill="url(#g_blue)"/><ellipse cx="371.23" cy="119.79" rx="8.3" ry="8.6" fill="#50BAFF"/><ellipse cx="371.23" cy="119.79" rx="8.3" ry="8.6" fill="url(#g_blue)"/><ellipse cx="390.34" cy="118.55" rx="8.3" ry="8.6" fill="#50BAFF"/><ellipse cx="390.34" cy="118.55" rx="8.3" ry="8.6" fill="url(#g_blue)"/><ellipse cx="409.46" cy="122.29" rx="8.3" ry="8.6" fill="#50BAFF"/><ellipse cx="409.46" cy="122.29" rx="8.3" ry="8.6" fill="url(#g_blue)"/><ellipse cx="428.58" cy="121.04" rx="8.3" ry="8.6" fill="#50BAFF"/><ellipse cx="428.58" cy="121.04" rx="8.3" ry="8.6" fill="url(#g_blue)"/><ellipse cx="447.70" cy="124.79" rx="8.3" ry="8.6" fill="#50BAFF"/><ellipse cx="447.70" cy="124.79" rx="8.3" ry="8.6" fill="url(#g_blue)"/><ellipse cx="466.81" cy="122.29" rx="8.3" ry="8.6" fill="#50BAFF"/><ellipse cx="466.81" cy="122.29" rx="8.3" ry="8.6" fill="url(#g_blue)"/><ellipse cx="485.93" cy="123.54" rx="8.3" ry="8.6" fill="#50BAFF"/><ellipse cx="485.93" cy="123.54" rx="8.3" ry="8.6" fill="url(#g_blue)"/><ellipse cx="505.05" cy="122.29" rx="8.3" ry="8.6" fill="#50BAFF"/><ellipse cx="505.05" cy="122.29" rx="8.3" ry="8.6" fill="url(#g_blue)"/><ellipse cx="524.17" cy="124.79" rx="8.3" ry="8.6" fill="#50BAFF"/><ellipse cx="524.17" cy="124.79" rx="8.3" ry="8.6" fill="url(#g_blue)"/><ellipse cx="543.28" cy="121.04" rx="8.3" ry="8.6" fill="#50BAFF"/><ellipse cx="543.28" cy="121.04" rx="8.3" ry="8.6" fill="url(#g_blue)"/><ellipse cx="562.40" cy="122.29" rx="8.3" ry="8.6" fill="#50BAFF"/><ellipse cx="562.40" cy="122.29" rx="8.3" ry="8.6" fill="url(#g_blue)"/><ellipse cx="581.52" cy="123.54" rx="8.3" ry="8.6" fill="#50BAFF"/><ellipse cx="581.52" cy="123.54" rx="8.3" ry="8.6" fill="url(#g_blue)"/><ellipse cx="600.64" cy="124.79" rx="8.3" ry="8.6" fill="#50BAFF"/><ellipse cx="600.64" cy="124.79" rx="8.3" ry="8.6" fill="url(#g_blue)"/><ellipse cx="619.75" cy="126.03" rx="8.3" ry="8.6" fill="#50BAFF"/><ellipse cx="619.75" cy="126.03" rx="8.3" ry="8.6" fill="url(#g_blue)"/><ellipse cx="638.87" cy="127.28" rx="8.3" ry="8.6" fill="#50BAFF"/><ellipse cx="638.87" cy="127.28" rx="8.3" ry="8.6" fill="url(#g_blue)"/><ellipse cx="657.99" cy="123.54" rx="8.3" ry="8.6" fill="#50BAFF"/><ellipse cx="657.99" cy="123.54" rx="8.3" ry="8.6" fill="url(#g_blue)"/><ellipse cx="677.11" cy="121.04" rx="8.3" ry="8.6" fill="#50BAFF"/><ellipse cx="677.11" cy="121.04" rx="8.3" ry="8.6" fill="url(#g_blue)"/><ellipse cx="696.23" cy="122.29" rx="8.3" ry="8.6" fill="#50BAFF"/><ellipse cx="696.23" cy="122.29" rx="8.3" ry="8.6" fill="url(#g_blue)"/><ellipse cx="715.34" cy="122.29" rx="8.3" ry="8.6" fill="#50BAFF"/><ellipse cx="715.34" cy="122.29" rx="8.3" ry="8.6" fill="url(#g_blue)"/><ellipse cx="734.46" cy="123.54" rx="8.3" ry="8.6" fill="#50BAFF"/><ellipse cx="734.46" cy="123.54" rx="8.3" ry="8.6" fill="url(#g_blue)"/><ellipse cx="753.58" cy="122.29" rx="8.3" ry="8.6" fill="#50BAFF"/><ellipse cx="753.58" cy="122.29" rx="8.3" ry="8.6" fill="url(#g_blue)"/><ellipse cx="772.69" cy="119.79" rx="8.3" ry="8.6" fill="#50BAFF"/><ellipse cx="772.69" cy="119.79" rx="8.3" ry="8.6" fill="url(#g_blue)"/><ellipse cx="791.81" cy="123.54" rx="8.3" ry="8.6" fill="#50BAFF"/><ellipse cx="791.81" cy="123.54" rx="8.3" ry="8.6" fill="url(#g_blue)"/><ellipse cx="810.93" cy="122.29" rx="8.3" ry="8.6" fill="#50BAFF"/><ellipse cx="810.93" cy="122.29" rx="8.3" ry="8.6" fill="url(#g_blue)"/><ellipse cx="830.05" cy="121.04" rx="8.3" ry="8.6" fill="#50BAFF"/><ellipse cx="830.05" cy="121.04" rx="8.3" ry="8.6" fill="url(#g_blue)"/><ellipse cx="849.17" cy="119.79" rx="8.3" ry="8.6" fill="#50BAFF"/><ellipse cx="849.17" cy="119.79" rx="8.3" ry="8.6" fill="url(#g_blue)"/><ellipse cx="868.28" cy="122.29" rx="8.3" ry="8.6" fill="#50BAFF"/><ellipse cx="868.28" cy="122.29" rx="8.3" ry="8.6" fill="url(#g_blue)"/><ellipse cx="887.40" cy="121.04" rx="8.3" ry="8.6" fill="#50BAFF"/><ellipse cx="887.40" cy="121.04" rx="8.3" ry="8.6" fill="url(#g_blue)"/>
<rect x="122.70" y="26.40" width="802.80" height="686.20" fill="none" stroke="#000" stroke-width="2.3"/>
<path d="M122.70,712.60V701.60M218.29,712.60V707.10M313.88,712.60V701.60M409.46,712.60V707.10M505.05,712.60V701.60M600.64,712.60V707.10M696.23,712.60V701.60M791.81,712.60V707.10M887.40,712.60V701.60M122.70,712.50H133.70M122.70,650.11H128.20M122.70,587.72H133.70M122.70,525.33H128.20M122.70,462.94H133.70M122.70,400.55H128.20M122.70,338.16H133.70M122.70,275.77H128.20M122.70,213.38H133.70M122.70,150.99H128.20M122.70,88.60H133.70" stroke="#000" stroke-width="2.1" fill="none"/>
<text class="b" x="0" y="0" font-size="100" text-anchor="end" transform="translate(111.60,723.40) scale(0.335,0.355)">10.0</text><text class="b" x="0" y="0" font-size="100" text-anchor="end" transform="translate(111.60,598.62) scale(0.335,0.355)">20.0</text><text class="b" x="0" y="0" font-size="100" text-anchor="end" transform="translate(111.60,473.84) scale(0.335,0.355)">30.0</text><text class="b" x="0" y="0" font-size="100" text-anchor="end" transform="translate(111.60,349.06) scale(0.335,0.355)">40.0</text><text class="b" x="0" y="0" font-size="100" text-anchor="end" transform="translate(111.60,224.28) scale(0.335,0.355)">50.0</text><text class="b" x="0" y="0" font-size="100" text-anchor="end" transform="translate(111.60,99.50) scale(0.335,0.355)">60.0</text><text class="b" x="0" y="0" font-size="100" text-anchor="middle" transform="translate(122.70,752.00) scale(0.335,0.355)">0</text><text class="b" x="0" y="0" font-size="100" text-anchor="middle" transform="translate(313.88,752.00) scale(0.335,0.355)">50</text><text class="b" x="0" y="0" font-size="100" text-anchor="middle" transform="translate(505.05,752.00) scale(0.335,0.355)">100</text><text class="b" x="0" y="0" font-size="100" text-anchor="middle" transform="translate(696.23,752.00) scale(0.335,0.355)">150</text><text class="b" x="0" y="0" font-size="100" text-anchor="middle" transform="translate(887.40,752.00) scale(0.335,0.355)">200</text>
<text class="b" x="0" y="0" font-size="100" transform="translate(431.8,803.8) scale(0.3875,0.39)">Time (min)</text>
<text class="b" x="0" y="0" font-size="100" transform="translate(28.5,515.7) rotate(-90) scale(0.353,0.333)">NO conversion (%)</text>
<text class="b" x="0" y="0" font-size="100" transform="translate(29.8,49.2) scale(0.564,0.555)">(a)</text>
<path d="M624.8,334.5H682.2" stroke="#404040" stroke-width="3.7" stroke-linecap="round"/><rect x="646.00" y="327.05" width="14.6" height="14.9" rx="1" fill="#404040"/><text class="i" x="688.3" y="342.90" font-size="24.7">AC</text>
<path d="M624.8,366.4H682.2" stroke="#FA3C3C" stroke-width="3.7" stroke-linecap="round"/><ellipse cx="653.40" cy="366.40" rx="8.3" ry="8.6" fill="#FA3C3C"/><ellipse cx="653.40" cy="366.40" rx="8.3" ry="8.6" fill="url(#g_red)"/><text class="i" x="688.3" y="374.80" font-size="24.7">(P/Tit-1/1)5@AC</text>
<path d="M624.8,398.2H682.2" stroke="#E070F8" stroke-width="3.7" stroke-linecap="round"/><ellipse cx="653.40" cy="398.20" rx="8.3" ry="8.6" fill="#E070F8"/><ellipse cx="653.40" cy="398.20" rx="8.3" ry="8.6" fill="url(#g_mag)"/><text class="i" x="688.3" y="406.60" font-size="24.7">(P/Tit-1/1)10@AC</text>
<path d="M624.8,430.0H682.2" stroke="#008000" stroke-width="3.7" stroke-linecap="round"/><ellipse cx="653.40" cy="430.00" rx="8.3" ry="8.6" fill="#008000"/><ellipse cx="653.40" cy="430.00" rx="8.3" ry="8.6" fill="url(#g_green)"/><text class="i" x="688.3" y="438.40" font-size="24.7">(P/Tit-1/1)15@AC</text>
<path d="M624.8,461.8H682.2" stroke="#50BAFF" stroke-width="3.7" stroke-linecap="round"/><ellipse cx="653.40" cy="461.80" rx="8.3" ry="8.6" fill="#50BAFF"/><ellipse cx="653.40" cy="461.80" rx="8.3" ry="8.6" fill="url(#g_blue)"/><text class="i" x="688.3" y="470.20" font-size="24.7">(P/Tit-1/1)20@AC</text>
<g fill="#404040"><ellipse cx="1116.24" cy="602.42" rx="3.25" ry="3.4"/><ellipse cx="1119.39" cy="588.99" rx="3.25" ry="3.4"/><ellipse cx="1122.48" cy="575.51" rx="3.25" ry="3.4"/><ellipse cx="1125.49" cy="562.13" rx="3.25" ry="3.4"/><ellipse cx="1128.49" cy="548.62" rx="3.25" ry="3.4"/><ellipse cx="1131.42" cy="535.22" rx="3.25" ry="3.4"/><ellipse cx="1134.35" cy="521.68" rx="3.25" ry="3.4"/><ellipse cx="1137.24" cy="508.22" rx="3.25" ry="3.4"/><ellipse cx="1140.11" cy="494.80" rx="3.25" ry="3.4"/><ellipse cx="1143.00" cy="481.25" rx="3.25" ry="3.4"/><ellipse cx="1145.87" cy="467.80" rx="3.25" ry="3.4"/><ellipse cx="1148.76" cy="454.29" rx="3.25" ry="3.4"/><ellipse cx="1151.65" cy="440.84" rx="3.25" ry="3.4"/><ellipse cx="1154.56" cy="427.40" rx="3.25" ry="3.4"/><ellipse cx="1157.51" cy="413.91" rx="3.25" ry="3.4"/><ellipse cx="1160.51" cy="400.42" rx="3.25" ry="3.4"/><ellipse cx="1163.52" cy="387.05" rx="3.25" ry="3.4"/><ellipse cx="1166.61" cy="373.59" rx="3.25" ry="3.4"/><ellipse cx="1169.76" cy="360.18" rx="3.25" ry="3.4"/><ellipse cx="1172.99" cy="346.81" rx="3.25" ry="3.4"/><ellipse cx="1176.34" cy="333.39" rx="3.25" ry="3.4"/><ellipse cx="1179.80" cy="320.11" rx="3.25" ry="3.4"/><ellipse cx="1183.43" cy="306.77" rx="3.25" ry="3.4"/><ellipse cx="1187.25" cy="293.56" rx="3.25" ry="3.4"/><ellipse cx="1191.32" cy="280.41" rx="3.25" ry="3.4"/><ellipse cx="1195.74" cy="267.40" rx="3.25" ry="3.4"/><ellipse cx="1199.65" cy="256.97" rx="3.25" ry="3.4"/><ellipse cx="1205.17" cy="243.82" rx="3.25" ry="3.4"/><ellipse cx="1211.38" cy="231.04" rx="3.25" ry="3.4"/><ellipse cx="1218.46" cy="218.70" rx="3.25" ry="3.4"/><ellipse cx="1226.57" cy="207.09" rx="3.25" ry="3.4"/><ellipse cx="1235.85" cy="196.43" rx="3.25" ry="3.4"/><ellipse cx="1246.21" cy="186.87" rx="3.25" ry="3.4"/><ellipse cx="1257.25" cy="178.15" rx="3.25" ry="3.4"/><ellipse cx="1268.37" cy="169.55" rx="3.25" ry="3.4"/><ellipse cx="1279.05" cy="160.22" rx="3.25" ry="3.4"/><ellipse cx="1289.65" cy="150.79" rx="3.25" ry="3.4"/><ellipse cx="1300.59" cy="141.79" rx="3.25" ry="3.4"/><ellipse cx="1312.01" cy="133.47" rx="3.25" ry="3.4"/><ellipse cx="1324.10" cy="126.18" rx="3.25" ry="3.4"/><ellipse cx="1336.95" cy="120.51" rx="3.25" ry="3.4"/><ellipse cx="1350.56" cy="117.28" rx="3.25" ry="3.4"/><ellipse cx="1362.36" cy="117.39" rx="3.25" ry="3.4"/><ellipse cx="1375.13" cy="121.96" rx="3.25" ry="3.4"/><ellipse cx="1386.73" cy="129.14" rx="3.25" ry="3.4"/><ellipse cx="1397.69" cy="137.40" rx="3.25" ry="3.4"/><ellipse cx="1408.47" cy="145.85" rx="3.25" ry="3.4"/><ellipse cx="1419.57" cy="153.85" rx="3.25" ry="3.4"/><ellipse cx="1431.54" cy="160.40" rx="3.25" ry="3.4"/><ellipse cx="1445.31" cy="164.02" rx="3.25" ry="3.4"/><ellipse cx="1458.64" cy="164.80" rx="3.25" ry="3.4"/><ellipse cx="1471.97" cy="163.92" rx="3.25" ry="3.4"/><ellipse cx="1485.22" cy="162.24" rx="3.25" ry="3.4"/><ellipse cx="1498.49" cy="160.59" rx="3.25" ry="3.4"/><ellipse cx="1511.82" cy="159.81" rx="3.25" ry="3.4"/><ellipse cx="1524.97" cy="160.60" rx="3.25" ry="3.4"/><ellipse cx="1538.34" cy="162.62" rx="3.25" ry="3.4"/><ellipse cx="1551.59" cy="165.24" rx="3.25" ry="3.4"/><ellipse cx="1564.82" cy="167.96" rx="3.25" ry="3.4"/><ellipse cx="1578.15" cy="170.25" rx="3.25" ry="3.4"/><ellipse cx="1591.58" cy="171.56" rx="3.25" ry="3.4"/><ellipse cx="1604.67" cy="171.36" rx="3.25" ry="3.4"/><ellipse cx="1618.08" cy="169.65" rx="3.25" ry="3.4"/><ellipse cx="1631.33" cy="167.00" rx="3.25" ry="3.4"/><ellipse cx="1644.49" cy="163.95" rx="3.25" ry="3.4"/><ellipse cx="1657.68" cy="161.03" rx="3.25" ry="3.4"/><ellipse cx="1671.01" cy="158.78" rx="3.25" ry="3.4"/><ellipse cx="1683.72" cy="157.41" rx="3.25" ry="3.4"/><ellipse cx="1696.93" cy="154.56" rx="3.25" ry="3.4"/><ellipse cx="1710.02" cy="151.19" rx="3.25" ry="3.4"/><ellipse cx="1723.33" cy="148.83" rx="3.25" ry="3.4"/><ellipse cx="1736.78" cy="149.22" rx="3.25" ry="3.4"/><ellipse cx="1749.51" cy="153.69" rx="3.25" ry="3.4"/><ellipse cx="1760.41" cy="161.82" rx="3.25" ry="3.4"/><ellipse cx="1769.46" cy="172.07" rx="3.25" ry="3.4"/><ellipse cx="1777.35" cy="183.27" rx="3.25" ry="3.4"/><ellipse cx="1784.56" cy="195.00" rx="3.25" ry="3.4"/><ellipse cx="1791.30" cy="207.00" rx="3.25" ry="3.4"/><ellipse cx="1797.75" cy="219.17" rx="3.25" ry="3.4"/><ellipse cx="1804.01" cy="231.44" rx="3.25" ry="3.4"/><ellipse cx="1810.17" cy="243.75" rx="3.25" ry="3.4"/><ellipse cx="1816.32" cy="256.08" rx="3.25" ry="3.4"/><ellipse cx="1822.52" cy="268.39" rx="3.25" ry="3.4"/><ellipse cx="1828.86" cy="280.65" rx="3.25" ry="3.4"/><ellipse cx="1835.43" cy="292.76" rx="3.25" ry="3.4"/></g>
<ellipse cx="1116.14" cy="602.84" rx="12.6" ry="13.0" fill="#404040"/><ellipse cx="1116.14" cy="602.84" rx="12.6" ry="13.0" fill="url(#g_b)"/><ellipse cx="1196.42" cy="265.51" rx="12.6" ry="13.0" fill="#404040"/><ellipse cx="1196.42" cy="265.51" rx="12.6" ry="13.0" fill="url(#g_b)"/><ellipse cx="1276.70" cy="162.38" rx="12.6" ry="13.0" fill="#404040"/><ellipse cx="1276.70" cy="162.38" rx="12.6" ry="13.0" fill="url(#g_b)"/><ellipse cx="1356.98" cy="116.89" rx="12.6" ry="13.0" fill="#404040"/><ellipse cx="1356.98" cy="116.89" rx="12.6" ry="13.0" fill="url(#g_b)"/><ellipse cx="1437.26" cy="162.38" rx="12.6" ry="13.0" fill="#404040"/><ellipse cx="1437.26" cy="162.38" rx="12.6" ry="13.0" fill="url(#g_b)"/><ellipse cx="1517.54" cy="159.96" rx="12.6" ry="13.0" fill="#404040"/><ellipse cx="1517.54" cy="159.96" rx="12.6" ry="13.0" fill="url(#g_b)"/><ellipse cx="1597.82" cy="171.67" rx="12.6" ry="13.0" fill="#404040"/><ellipse cx="1597.82" cy="171.67" rx="12.6" ry="13.0" fill="url(#g_b)"/><ellipse cx="1678.10" cy="158.06" rx="12.6" ry="13.0" fill="#404040"/><ellipse cx="1678.10" cy="158.06" rx="12.6" ry="13.0" fill="url(#g_b)"/><ellipse cx="1758.38" cy="159.96" rx="12.6" ry="13.0" fill="#404040"/><ellipse cx="1758.38" cy="159.96" rx="12.6" ry="13.0" fill="url(#g_b)"/><ellipse cx="1838.66" cy="298.44" rx="12.6" ry="13.0" fill="#404040"/><ellipse cx="1838.66" cy="298.44" rx="12.6" ry="13.0" fill="url(#g_b)"/>
<rect x="1076.00" y="26.60" width="802.80" height="685.90" fill="none" stroke="#000" stroke-width="2.3"/>
<path d="M1116.14,712.50V701.50M1196.42,712.50V701.50M1276.70,712.50V701.50M1356.98,712.50V701.50M1437.26,712.50V701.50M1517.54,712.50V701.50M1597.82,712.50V701.50M1678.10,712.50V701.50M1758.38,712.50V701.50M1838.66,712.50V701.50M1076.00,712.30H1087.00M1076.00,659.52H1081.50M1076.00,606.75H1087.00M1076.00,553.97H1081.50M1076.00,501.20H1087.00M1076.00,448.43H1081.50M1076.00,395.65H1087.00M1076.00,342.87H1081.50M1076.00,290.10H1087.00M1076.00,237.32H1081.50M1076.00,184.55H1087.00M1076.00,131.78H1081.50M1076.00,79.00H1087.00" stroke="#000" stroke-width="2.1" fill="none"/>
<text class="b" x="0" y="0" font-size="100" text-anchor="end" transform="translate(1064.70,723.20) scale(0.335,0.355)">10.0</text><text class="b" x="0" y="0" font-size="100" text-anchor="end" transform="translate(1064.70,617.65) scale(0.335,0.355)">20.0</text><text class="b" x="0" y="0" font-size="100" text-anchor="end" transform="translate(1064.70,512.10) scale(0.335,0.355)">30.0</text><text class="b" x="0" y="0" font-size="100" text-anchor="end" transform="translate(1064.70,406.55) scale(0.335,0.355)">40.0</text><text class="b" x="0" y="0" font-size="100" text-anchor="end" transform="translate(1064.70,301.00) scale(0.335,0.355)">50.0</text><text class="b" x="0" y="0" font-size="100" text-anchor="end" transform="translate(1064.70,195.45) scale(0.335,0.355)">60.0</text><text class="b" x="0" y="0" font-size="100" text-anchor="end" transform="translate(1064.70,89.90) scale(0.335,0.355)">70.0</text><text class="b" x="0" y="0" font-size="100" text-anchor="middle" transform="translate(1116.14,752.00) scale(0.335,0.355)">AC</text><text class="b" x="0" y="0" font-size="100" text-anchor="middle" transform="translate(1196.42,752.00) scale(0.335,0.355)">1/5</text><text class="b" x="0" y="0" font-size="100" text-anchor="middle" transform="translate(1276.70,752.00) scale(0.335,0.355)">1/3</text><text class="b" x="0" y="0" font-size="100" text-anchor="middle" transform="translate(1356.98,752.00) scale(0.335,0.355)">1/2</text><text class="b" x="0" y="0" font-size="100" text-anchor="middle" transform="translate(1437.26,752.00) scale(0.335,0.355)">2/3</text><text class="b" x="0" y="0" font-size="100" text-anchor="middle" transform="translate(1517.54,752.00) scale(0.335,0.355)">1/1</text><text class="b" x="0" y="0" font-size="100" text-anchor="middle" transform="translate(1597.82,752.00) scale(0.335,0.355)">3/2</text><text class="b" x="0" y="0" font-size="100" text-anchor="middle" transform="translate(1678.10,752.00) scale(0.335,0.355)">2/1</text><text class="b" x="0" y="0" font-size="100" text-anchor="middle" transform="translate(1758.38,752.00) scale(0.335,0.355)">3/1</text><text class="b" x="0" y="0" font-size="100" text-anchor="middle" transform="translate(1838.66,752.00) scale(0.335,0.355)">5/1</text>
<text class="b" x="0" y="0" font-size="100" transform="translate(1224.2,803.8) scale(0.388,0.39)">Pyrolusite/Titanium ratio (x/y)</text>
<text class="b" x="0" y="0" font-size="100" transform="translate(981.7,515.7) rotate(-90) scale(0.353,0.333)">NO conversion (%)</text>
<text class="b" x="0" y="0" font-size="100" transform="translate(982.0,49.2) scale(0.556,0.555)">(b)</text>
</svg>
</body></html>
